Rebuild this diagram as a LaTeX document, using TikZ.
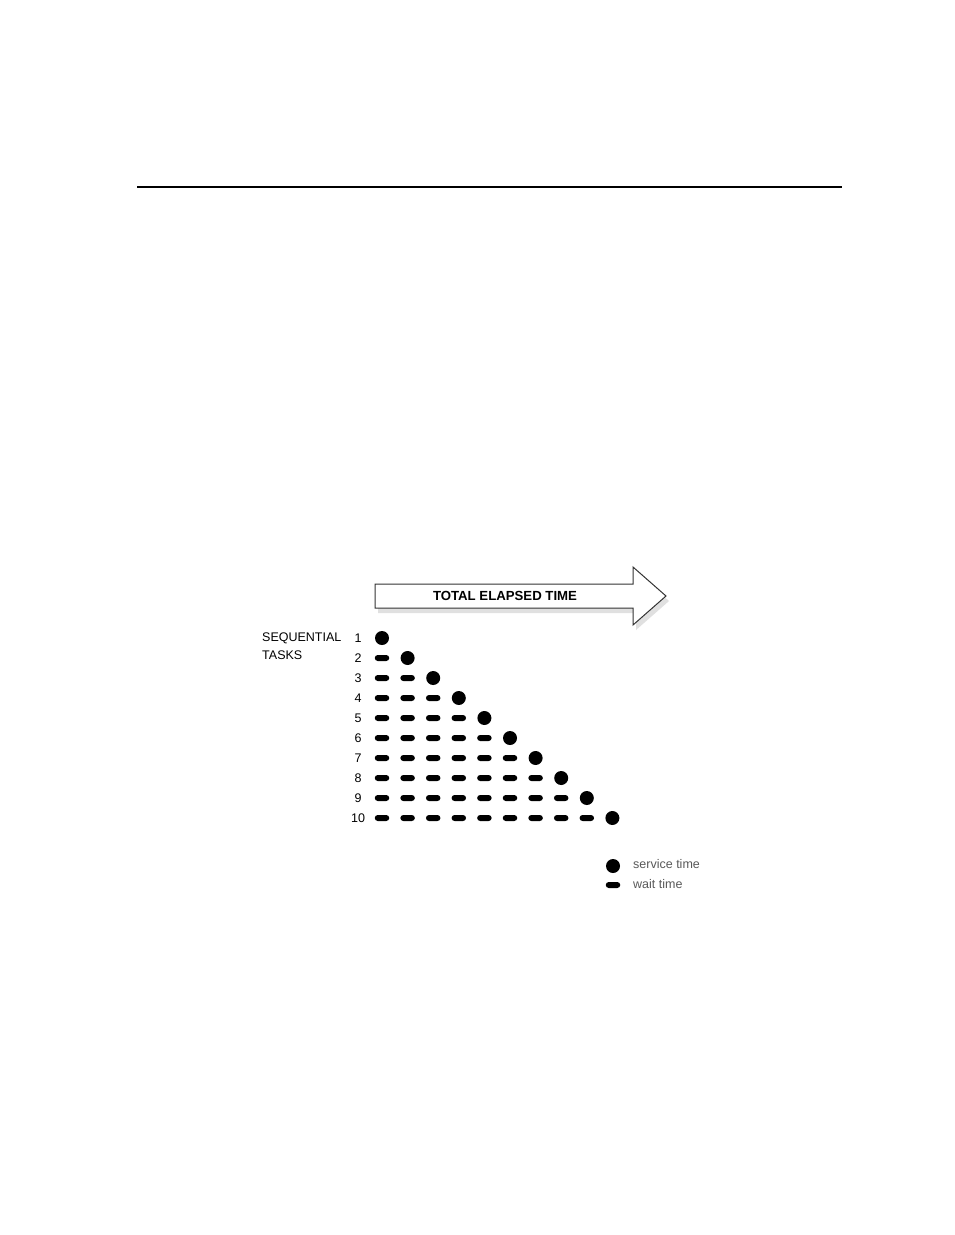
\documentclass[tikz,border=0pt]{standalone}
\usepackage{fontspec}
\setmainfont{Liberation Sans}
\begin{document}
\begin{tikzpicture}[x=1pt,y=-1pt,
  dotnode/.style={circle,fill=black,inner sep=0pt,minimum size=14pt},
  dashnode/.style={rectangle,fill=black,inner sep=0pt,minimum width=14.5pt,minimum height=6pt,rounded corners=3pt},
  numlabel/.style={font=\fontsize{12.5}{14}\selectfont,inner sep=0pt},
  sidelabel/.style={font=\fontsize{12.5}{14}\selectfont,inner sep=0pt,anchor=west},
  legendlabel/.style={font=\fontsize{12.5}{14}\selectfont,text=black!65,inner sep=0pt,anchor=west},
  arrowshape/.style={draw=black!80,line width=1pt,fill=white,line join=miter}]
\useasboundingbox (0,0) rectangle (954,1235);
\fill[white] (0,0) rectangle (954,1235);
% top rule
\draw[line width=1.3pt] (137,187) -- (842,187);
% arrow shadow
\fill[black!15,opacity=.8] (378,589) -- (636,589) -- (636,572) -- (669,601) -- (636,630) -- (636,613) -- (378,613) -- cycle;
% arrow
\draw[arrowshape] (375,584) -- (633,584) -- (633,567) -- (666,596) -- (633,625) -- (633,608) -- (375,608) -- cycle;
\node[font=\bfseries\fontsize{13.2}{15}\selectfont,inner sep=0pt] (title) at (505,596) {TOTAL ELAPSED TIME};
% side labels
\node[sidelabel] (seq) at (262,638) {SEQUENTIAL};
\node[sidelabel] (tasks) at (262,655) {TASKS};
% rows
\foreach \r in {1,...,10} {
  \pgfmathsetmacro{\yy}{618+20*\r}
  \node[numlabel] (n\r) at (358,\yy) {\r};
  \foreach \c in {1,...,\r} {
    \pgfmathsetmacro{\xx}{382+25.6*(\c-1)}
    \ifnum\c<\r
      \node[dashnode] (w\r-\c) at (\xx,\yy) {};
    \else
      \node[dotnode] (s\r) at (\xx,\yy) {};
    \fi
  }
}
% legend
\node[dotnode] (legdot) at (613,866) {};
\node[dashnode] (legdash) at (613,885) {};
\node[legendlabel] (legsvc) at (633,864) {service time};
\node[legendlabel] (legwait) at (633,884) {wait time};
\end{tikzpicture}
\end{document}
